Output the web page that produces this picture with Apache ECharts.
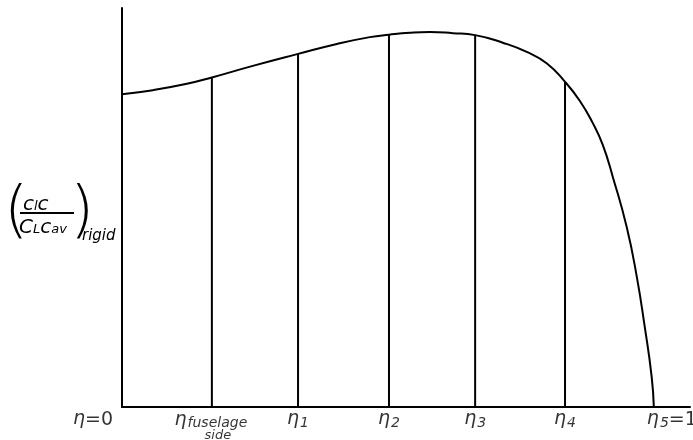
<!DOCTYPE html>
<html>
<head>
<meta charset="utf-8">
<script src="https://cdn.jsdelivr.net/npm/echarts@6/dist/echarts.min.js"></script>
<style>html,body{margin:0;padding:0;background:#fff}#c{width:693px;height:440px}</style>
</head>
<body>
<div id="c"></div>
<script>
// Spanwise load distribution curve (eta, coefficient)
const eta  = [0, 0.058, 0.122, 0.169, 0.246, 0.331, 0.404, 0.466, 0.502, 0.541, 0.579, 0.622, 0.664, 0.716, 0.761, 0.799, 0.833, 0.861, 0.885, 0.904, 0.923, 0.949, 0.968, 0.983, 0.996, 1.0];
const coef = [0.784, 0.794, 0.810, 0.826, 0.855, 0.885, 0.910, 0.927, 0.933, 0.938, 0.940, 0.937, 0.932, 0.913, 0.890, 0.861, 0.815, 0.767, 0.712, 0.657, 0.576, 0.451, 0.326, 0.200, 0.075, 0];

// Stations (vertical lines from axis up to the curve)
const stationEta  = [0.169, 0.331, 0.502, 0.664, 0.833];
const stationCoef = [0.826, 0.885, 0.933, 0.932, 0.815];

// Tick labels along the eta axis
const tickEta = [0, 0.169, 0.331, 0.502, 0.664, 0.833, 1.0];
const tickLabels = [
  '{e|η}{t|=0}',
  '{e|η}{s|fuselage}\n{s2|side}',
  '{e|η}{s|1}',
  '{e|η}{s|2}',
  '{e|η}{s|3}',
  '{e|η}{s|4}',
  '{e|η}{s|5}{t|=1}'
];
const tickOffsets = [[-29, 13], [-1, 19], [0, 13], [0, 13], [0, 13], [0, 13], [18, 13]];

const FONT = 'DejaVu Sans';
const rich = {
  e: {fontFamily: FONT, fontSize: 19, fontStyle: 'italic', color: '#000', lineHeight: 20, verticalAlign: 'top'},
  s: {fontFamily: FONT, fontSize: 14, fontStyle: 'italic', color: '#000', lineHeight: 14, padding: [9, 0, 0, 1], verticalAlign: 'bottom'},
  s2: {fontFamily: FONT, fontSize: 13, fontStyle: 'italic', color: '#000', lineHeight: 11, padding: [0, 0, 0, 14]},
  t: {fontFamily: FONT, fontSize: 19, color: '#000', lineHeight: 20, padding: [3, 0, 0, 0], verticalAlign: 'bottom'}
};

const chart = echarts.init(document.getElementById('c'), null, {renderer: 'canvas'});

const series = [{
  type: 'line',
  data: eta.map((x, i) => [x, coef[i]]),
  smooth: 0.5,
  symbol: 'none',
  lineStyle: {color: '#000', width: 2},
  z: 3
}];
stationEta.forEach((x, i) => {
  series.push({
    type: 'line',
    data: [[x, 0], [x, stationCoef[i]]],
    symbol: 'none',
    lineStyle: {color: '#000', width: 2},
    z: 2
  });
});
series.push({
  type: 'scatter',
  symbolSize: 0,
  data: tickEta.map((x, i) => ({
    value: [x, 0],
    label: {
      show: true,
      position: 'inside',
      color: '#000',
      offset: tickOffsets[i],
      formatter: tickLabels[i],
      rich: rich
    }
  })),
  silent: true,
  z: 5
});

chart.setOption({
  animation: false,
  backgroundColor: '#fff',
  grid: {left: 122, right: 3, top: 8, bottom: 33},
  xAxis: {
    type: 'value', min: 0, max: 1.068,
    axisLine: {show: true, lineStyle: {color: '#000', width: 2}},
    axisTick: {show: false}, axisLabel: {show: false}, splitLine: {show: false}
  },
  yAxis: {
    type: 'value', min: 0, max: 1,
    axisLine: {show: true, lineStyle: {color: '#000', width: 2}},
    axisTick: {show: false}, axisLabel: {show: false}, splitLine: {show: false}
  },
  series: series,
  graphic: [
    {type: 'text', left: 4, top: 183, style: {text: '(', font: '300 62px "DejaVu Sans"', fill: '#000'}},
    {type: 'text', left: 23, top: 193, style: {
      text: '{v|c}{s|l}{v|c}',
      rich: {
        v: {fontFamily: FONT, fontSize: 20, fontStyle: 'italic', color: '#000', lineHeight: 18, verticalAlign: 'top'},
        s: {fontFamily: FONT, fontSize: 13, fontStyle: 'italic', color: '#000', lineHeight: 12, padding: [7, 0, 0, 0], verticalAlign: 'bottom'}
      }
    }},
    {type: 'line', shape: {x1: 20, y1: 213, x2: 74, y2: 213}, style: {stroke: '#000', lineWidth: 1.8}},
    {type: 'text', left: 19, top: 216, style: {
      text: '{V|C}{s|L}{v|c}{s|av}',
      rich: {
        V: {fontFamily: FONT, fontSize: 20, fontStyle: 'italic', color: '#000', lineHeight: 18, verticalAlign: 'top'},
        v: {fontFamily: FONT, fontSize: 20, fontStyle: 'italic', color: '#000', lineHeight: 18, verticalAlign: 'top'},
        s: {fontFamily: FONT, fontSize: 13, fontStyle: 'italic', color: '#000', lineHeight: 12, padding: [7, 0, 0, 0], verticalAlign: 'bottom'}
      }
    }},
    {type: 'text', left: 70, top: 183, style: {text: ')', font: '300 62px "DejaVu Sans"', fill: '#000'}},
    {type: 'text', left: 82, top: 229, style: {text: 'rigid', font: 'italic 15px "DejaVu Sans"', fill: '#000'}}
  ]
});
</script>
</body>
</html>
